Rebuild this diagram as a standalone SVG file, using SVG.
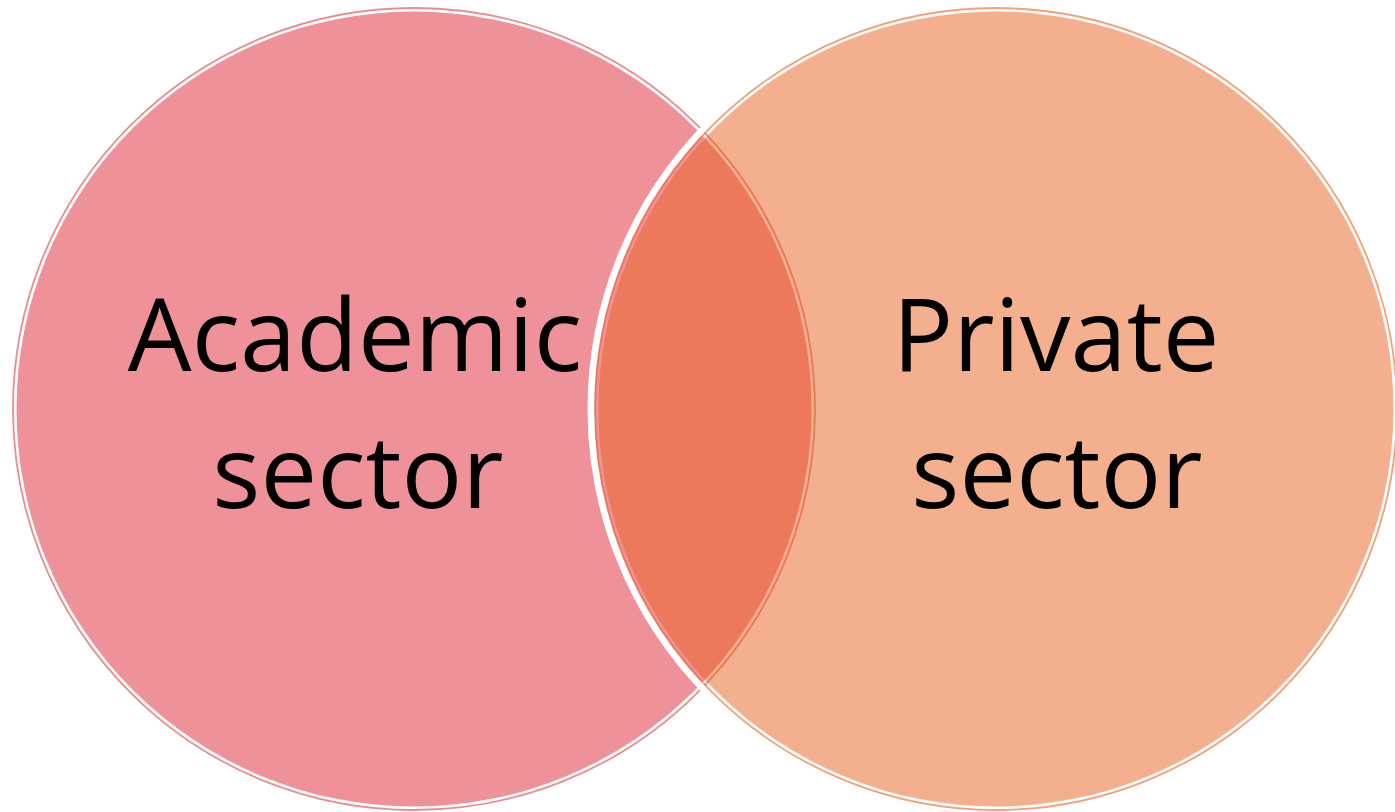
<svg xmlns="http://www.w3.org/2000/svg" width="1395" height="812" viewBox="0 0 1395 812">
<style>
.lbl{font-family:"Open Sans","DejaVu Sans",sans-serif;font-size:101px;fill:#000;text-anchor:middle}
.ring{fill:none;stroke-width:1.8}
</style>
<rect width="1395" height="812" fill="#fff"/>
<g id="academic">
<circle cx="414" cy="409" r="401" class="ring" stroke="#EA8C94"/>
<circle cx="414" cy="409" r="397.5" fill="#EF9199"/>
</g>
<g id="private">
<circle cx="996" cy="409" r="405" fill="none" stroke="#fff" stroke-width="7"/>
<circle cx="996" cy="409" r="401" class="ring" stroke="#E9611D" stroke-opacity="0.6"/>
<circle cx="996" cy="409" r="397.5" fill="#E9611D" fill-opacity="0.5"/>
</g>
<g id="labels">
<text class="lbl" x="355" y="371">Academic</text>
<text class="lbl" x="358" y="508">sector</text>
<text class="lbl" x="1056" y="371">Private</text>
<text class="lbl" x="1057" y="508">sector</text>
</g>
</svg>
